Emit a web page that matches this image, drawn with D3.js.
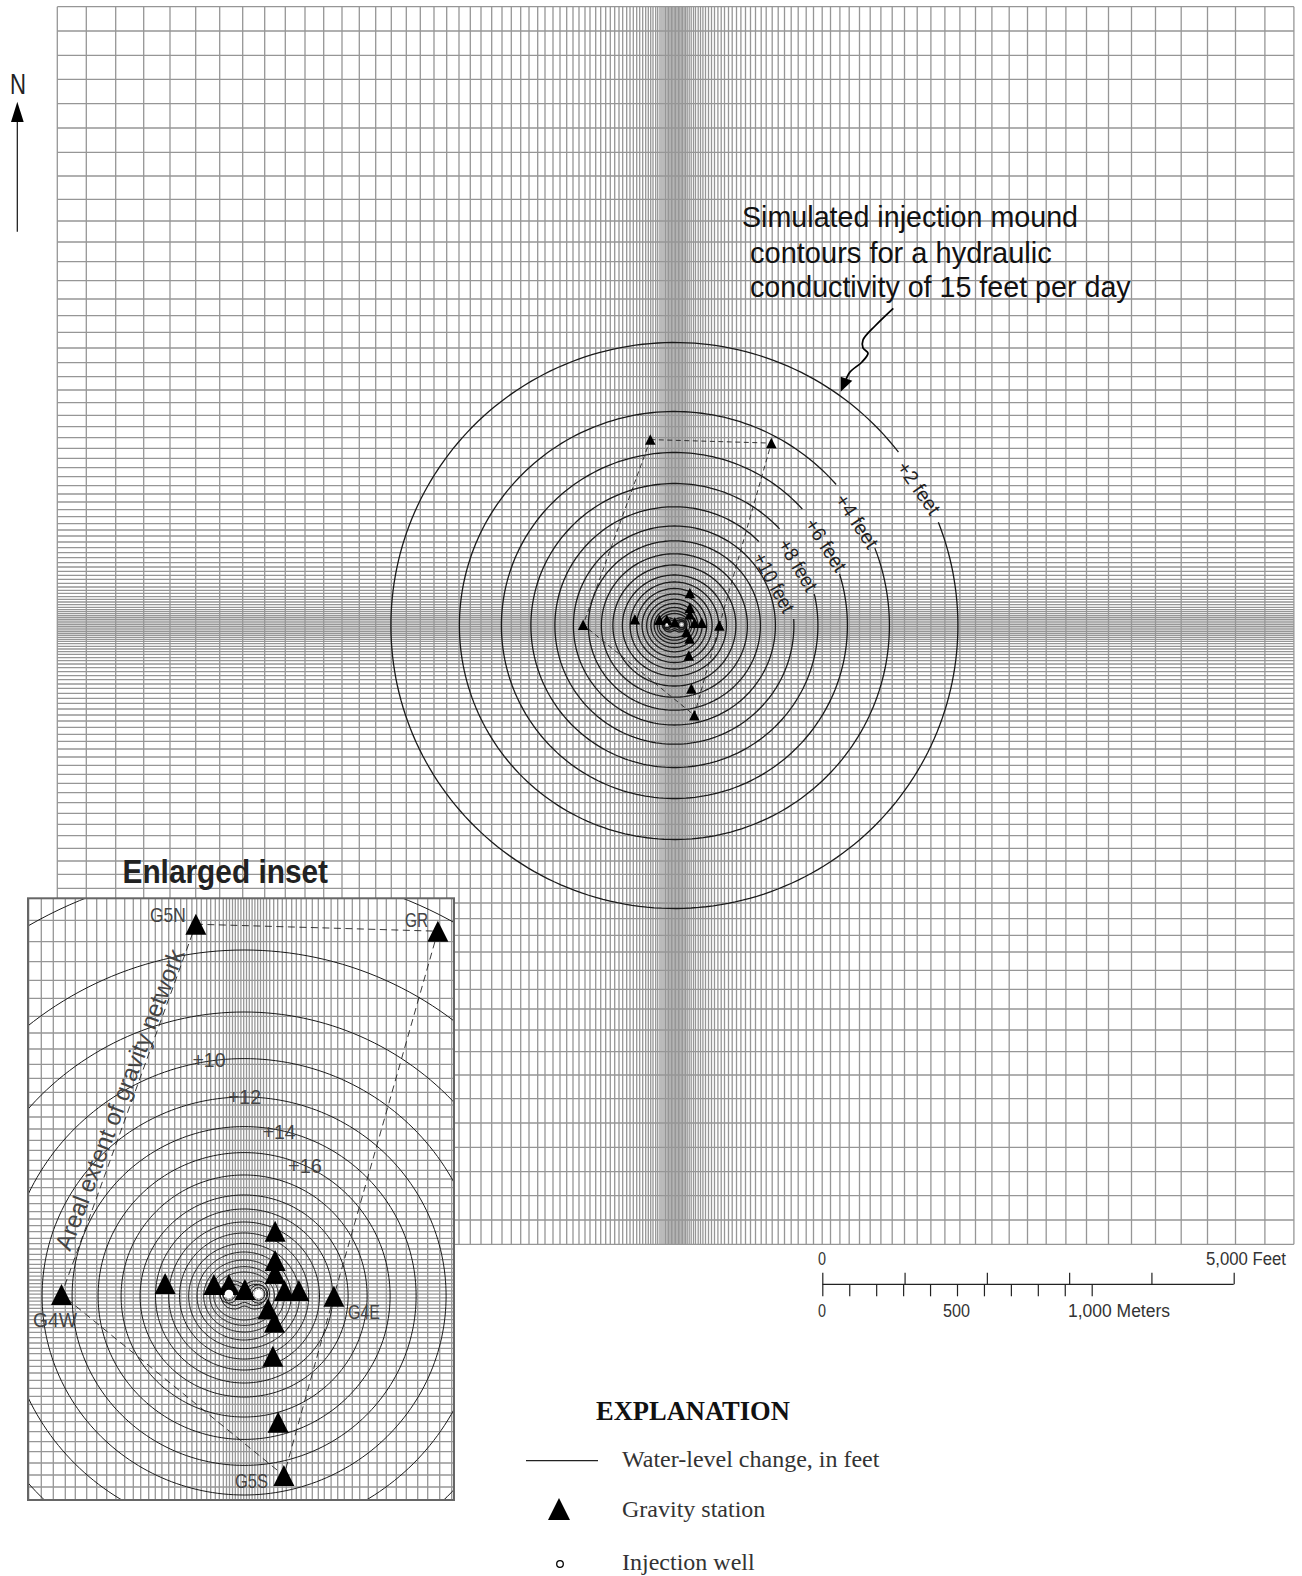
<!DOCTYPE html>
<html>
<head>
<meta charset="utf-8">
<script src="https://cdnjs.cloudflare.com/ajax/libs/d3/7.8.5/d3.min.js"></script>
<style>
  html, body { margin: 0; padding: 0; background: #fff; }
  svg { display: block; }
  text { font-family: "Liberation Sans", sans-serif; }
  .serif { font-family: "Liberation Serif", serif; }
  .axis path, .axis line { stroke: #222; stroke-width: 1.2; fill: none; }
</style>
</head>
<body>
<div id="chart"></div>
<script>
// model grid lines, distance from the grid centre (mirrored both ways)
const gridX = [618.3, 589.3, 559.9, 531.9, 505.6, 479.9, 455.9, 432.9, 410.9, 390.3, 370.6, 351.9, 333.6,
  316.3, 299.9, 284.3, 269.3, 255.3, 241.6, 228.9, 216.6, 205.3, 194.6, 183.9, 173.6, 164.3, 154.9,
  146.6, 137.9, 130.6, 122.6, 115.6, 108.9, 102.6, 96.6, 90.6, 85.6, 79.9, 74.9, 69.9, 65.3, 60.9,
  56.6, 52.9, 48.9, 45.6, 42.3, 38.9, 35.9, 32.9, 29.9, 27.3, 24.9, 22.6, 19.9, 17.9, 15.6, 13.6,
  11.6, 10, 8.5, 7, 5.6, 4.2, 2.8, 1.4, 0];
const gridY = [618.8, 594.5, 570.2, 546.2, 521.8, 497.5, 473.2, 449.5, 426.2, 404.5, 383.5, 363.8, 344.8,
  326.5, 309.8, 293.2, 277.5, 262.8, 248.8, 235.5, 222.8, 210.2, 198.8, 187.8, 177.2, 167.2, 157.8,
  148.8, 139.8, 131.5, 123.5, 115.8, 108.8, 101.8, 95.5, 89.5, 83.5, 77.8, 72.8, 67.8, 62.8, 58.5,
  54.2, 50.2, 46.2, 42.2, 38.5, 35.2, 32.2, 28.8, 26.2, 23.5, 20.8, 18.2, 15.8, 13.8, 11.8, 9.9,
  8, 6.2, 4.4, 2.6, 0.9];

// contours: half width, half height, gap in the main map (degrees clockwise from north)
const contourRx = [283.5, 215, 173, 143.5, 119.5, 101, 86, 73, 61.5, 52, 44.3, 37.7, 32.3, 27.7, 23.5, 20.2, 17.2, 15.2];
const contourRy = [283, 214, 173, 142, 118.7, 99.5, 84.7, 71.7, 60.5, 50.5, 43.5, 37, 31.5, 26.3, 22, 18, 14.7, 12];
const contourGaps = [[52.2, 68.6], [48.8, 68.8], [47.7, 72.7], [47.1, 77.2], [45, 86.9]];
const contourCentre = [-1.2, 0];

// peanut shaped innermost contours and the small rings round each well
const peanutA = [[-13.2, -1], [-10.5, -6.5], [-5.5, -7.5], [-1, -6], [3.5, -7.5], [9, -6.5], [11.5, -1], [9, 5], [3.5, 6.5], [-1, 5], [-5.5, 6.5], [-10.5, 5]];
const peanutB = [[-11.8, -1], [-9.5, -5], [-5.5, -5.7], [-1, -4.2], [3.5, -5.7], [8, -5], [10.2, -1], [8, 3.5], [3.5, 4.7], [-1, 3.2], [-5.5, 4.7], [-9.5, 3.5]];
const lobeRadii = [4.6, 3.2];

const wellU = [-8.8, 6];
const wellV = [-1, -1];

const stationNames = ["G4W", "A", "B", "C", "D", "E", "F", "G", "H", "I", "G4E", "K", "L", "M", "N", "G5S", "G5N", "GR"];
const stationU = [-92.5, -40.7, -16.3, -8.8, -0.8, 14.3, 14.3, 14.3, 19, 26.2, 43.7, 10.8, 14, 13.2, 15.8, 18.7, -25.3, 95.7];
const stationV = [-0.75, -6.2, -5.7, -5.7, -3.2, -32.4, -17.8, -11.3, -2.8, -2.8, 0.1, 6.4, 13.1, 30.1, 63.1, 89.8, -185.9, -182.4];
const networkOrder = ["G5N", "GR", "G4E", "G5S", "G4W", "G5N"];

const mainLabels = ["+2 feet", "+4 feet", "+6 feet", "+8 feet", "+10 feet"];
const calloutLines = ["Simulated injection mound", "contours for a hydraulic", "conductivity of 15 feet per day"];
const insetNames = ["G5N", "GR", "G4W", "G4E", "G5S", "+10", "+12", "+14", "+16"];
const scaleLabels = ["0", "5,000 Feet", "0", "500", "1,000 Meters"];
const explainLabels = ["Water-level change, in feet", "Gravity station", "Injection well"];

const feetTicks = [0, 1000, 2000, 3000, 4000, 5000];
const meterTicks = [0, 100, 200, 300, 400, 500, 600, 700, 800, 900, 1000];

const width = 1302, height = 1576;
const svg = d3.select("#chart").append("svg").attr("width", width).attr("height", height);
svg.append("rect").attr("width", width).attr("height", height).attr("fill", "#fff");

const mainX = d3.scaleLinear().domain([-618.3, 618.3]).range([57.3, 1293.9]);
const mainY = d3.scaleLinear().domain([-618.8, 618.8]).range([6.7, 1244.3]);
const insetX = d3.scaleLinear().domain([-100, 100]).range([46.5, 446.5]);
const insetY = d3.scaleLinear().domain([-100, 100]).range([1096, 1496]);

const both = a => a.flatMap(d => d === 0 ? [0] : [-d, d]);

// narrow look: no condensed face is installed, so squeeze glyphs to the measured width
function narrow(sel, len) {
  return sel.attr("textLength", len).attr("lengthAdjust", "spacingAndGlyphs");
}

function ringPath(x, y, rx, ry, gap) {
  const from = gap ? gap[1] : 0;
  const to = gap ? gap[0] + 360 : 360;
  const angles = d3.range(from, to, 1.5).concat([to]);
  return d3.line()
    .x(a => x(contourCentre[0] + rx * Math.sin(a * Math.PI / 180)))
    .y(a => y(contourCentre[1] - ry * Math.cos(a * Math.PI / 180)))(angles);
}

function drawMap(g, x, y, opt) {
  const xLines = both(gridX), yLines = both(gridY);
  g.selectAll("line.v").data(xLines).join("line").attr("class", "v")
    .attr("x1", d => x(d)).attr("x2", d => x(d))
    .attr("y1", y(-618.8)).attr("y2", y(618.8))
    .attr("stroke", "#969696").attr("stroke-width", 1.3);
  g.selectAll("line.h").data(yLines).join("line").attr("class", "h")
    .attr("x1", x(-618.3)).attr("x2", x(618.3))
    .attr("y1", d => y(d)).attr("y2", d => y(d))
    .attr("stroke", "#969696").attr("stroke-width", 1.3);

  // contours
  g.selectAll("path.ring").data(contourRx).join("path").attr("class", "ring")
    .attr("d", (rx, i) => ringPath(x, y, rx, contourRy[i], opt.gaps ? contourGaps[i] : null))
    .attr("fill", "none").attr("stroke", "#1a1a1a").attr("stroke-width", opt.ringWidth);

  const peanutLine = d3.line().x(d => x(d[0])).y(d => y(d[1])).curve(d3.curveCardinalClosed);
  g.selectAll("path.peanut").data([peanutA, peanutB]).join("path").attr("class", "peanut")
    .attr("d", peanutLine)
    .attr("fill", "none").attr("stroke", "#1a1a1a").attr("stroke-width", opt.ringWidth);
  const k = x(1) - x(0);
  wellU.forEach((u, i) => {
    g.selectAll("circle.lobe" + i).data(lobeRadii).join("circle").attr("class", "lobe" + i)
      .attr("cx", x(u)).attr("cy", y(wellV[i])).attr("r", r => r * k)
      .attr("fill", "none").attr("stroke", "#1a1a1a").attr("stroke-width", opt.ringWidth);
  });

  // gravity network
  const at = n => stationNames.indexOf(n);
  g.append("path")
    .attr("d", d3.line().x(n => x(stationU[at(n)])).y(n => y(stationV[at(n)]))(networkOrder))
    .attr("fill", "none").attr("stroke", "#222").attr("stroke-width", opt.dashWidth)
    .attr("stroke-dasharray", opt.dash);

  // stations
  const w = opt.triangle;
  g.selectAll("path.station").data(stationU).join("path").attr("class", "station")
    .attr("d", (u, i) => {
      const cx = x(u), cy = y(stationV[i]);
      return d3.line()([[cx, cy - w / 2], [cx + w / 2, cy + w / 2], [cx - w / 2, cy + w / 2]]) + "Z";
    })
    .attr("fill", "#000");

  g.selectAll("circle.well").data(wellU).join("circle").attr("class", "well")
    .attr("cx", d => x(d)).attr("cy", (d, i) => y(wellV[i])).attr("r", opt.wellR)
    .attr("fill", "#fff");
}

// main map
const mainG = svg.append("g");
drawMap(mainG, mainX, mainY, { gaps: true, ringWidth: 1.3, dashWidth: 0.9, dash: "5,3.5", triangle: 10.5, wellR: 1.3 });

const mainLabelPos = [[919, 488, 55, 60], [857, 521, 56.5, 61], [826, 545, 57, 59], [798, 565, 59, 57], [774, 582.5, 61.5, 65]];
mainLabels.forEach((t, i) => {
  const p = mainLabelPos[i];
  mainG.append("text")
    .attr("transform", `translate(${p[0]},${p[1]}) rotate(${p[2]})`)
    .attr("text-anchor", "middle").attr("dy", "0.35em")
    .attr("font-size", 20).attr("fill", "#222")
    .text(t).call(narrow, p[3]);
});

// callout
const calloutPos = [[742, 227.3, 336], [750, 262.7, 301.7], [750, 297.3, 380.7]];
calloutLines.forEach((t, i) => {
  svg.append("text").attr("x", calloutPos[i][0]).attr("y", calloutPos[i][1])
    .attr("font-size", 30).attr("fill", "#111")
    .text(t).call(narrow, calloutPos[i][2]);
});

const squiggle = [[893.3, 308.3], [875, 326], [863, 340], [863, 348], [868, 353], [862, 362], [850, 372], [845, 382]];
svg.append("path")
  .attr("d", d3.line().curve(d3.curveCatmullRom)(squiggle))
  .attr("fill", "none").attr("stroke", "#000").attr("stroke-width", 1.8);
svg.append("path")
  .attr("d", d3.line()([[840.7, 391.7], [840.7, 376.7], [852.3, 380.7]]) + "Z")
  .attr("fill", "#000");

// north arrow
svg.append("text").attr("x", 10).attr("y", 94)
  .attr("font-size", 29).attr("fill", "#222").text("N").call(narrow, 16);
svg.append("line").attr("x1", 17.3).attr("x2", 17.3).attr("y1", 231.7).attr("y2", 115)
  .attr("stroke", "#111").attr("stroke-width", 1.2);
svg.append("path").attr("d", d3.line()([[17.3, 101.7], [23.7, 122], [11, 122]]) + "Z").attr("fill", "#000");

// inset
svg.append("text").attr("x", 122.5).attr("y", 883)
  .attr("font-size", 33).attr("font-weight", "bold").attr("fill", "#222")
  .text("Enlarged inset").call(narrow, 205.5);

const insetFrame = { x: 28, y: 898.3, w: 426, h: 601.7 };
svg.append("clipPath").attr("id", "inset-clip").append("rect")
  .attr("x", insetFrame.x).attr("y", insetFrame.y).attr("width", insetFrame.w).attr("height", insetFrame.h);
const insetG = svg.append("g").attr("clip-path", "url(#inset-clip)");
insetG.append("rect").attr("x", insetFrame.x).attr("y", insetFrame.y)
  .attr("width", insetFrame.w).attr("height", insetFrame.h).attr("fill", "#fff");
drawMap(insetG, insetX, insetY, { gaps: false, ringWidth: 1, dashWidth: 0.9, dash: "7,4.5", triangle: 21, wellR: 4.3 });
svg.append("rect").attr("x", insetFrame.x).attr("y", insetFrame.y)
  .attr("width", insetFrame.w).attr("height", insetFrame.h)
  .attr("fill", "none").attr("stroke", "#666").attr("stroke-width", 2);

const insetNamePos = [[150, 921.7, 35.7], [405, 927, 23], [33, 1326.7, 44], [348, 1319, 32], [235, 1488, 33],
  [192.5, 1066.7, 33], [228, 1104, 33], [262.7, 1138.7, 33], [288, 1173, 34]];
insetNames.forEach((t, i) => {
  svg.append("text").attr("x", insetNamePos[i][0]).attr("y", insetNamePos[i][1])
    .attr("font-size", 21).attr("fill", "#444")
    .text(t).call(narrow, insetNamePos[i][2]);
});
svg.append("text").attr("transform", "translate(70,1252) rotate(-69)")
  .attr("font-size", 24).attr("fill", "#444")
  .text("Areal extent of gravity network").call(narrow, 320);

// scale bar
const feetScale = d3.scaleLinear().domain([0, 5000]).range([822.3, 1233.7]);
const meterScale = d3.scaleLinear().domain([0, 1000]).range([822.3, 1091.7]);
svg.append("g").attr("class", "axis").attr("transform", "translate(0,1284.3)")
  .call(d3.axisTop(feetScale).tickValues(feetTicks).tickSize(11.5).tickFormat(""))
  .call(g => g.select(".domain").attr("d", `M${feetScale(0)},0H${feetScale(5000)}`));
svg.append("g").attr("class", "axis").attr("transform", "translate(0,1284.3)")
  .call(d3.axisBottom(meterScale).tickValues(meterTicks).tickSize(12).tickFormat(""))
  .call(g => g.select(".domain").remove());
const scalePos = [[818, 1265, 8], [1206, 1265, 80], [818, 1316.7, 8], [943, 1316.7, 27], [1068, 1316.7, 102]];
scaleLabels.forEach((t, i) => {
  svg.append("text").attr("x", scalePos[i][0]).attr("y", scalePos[i][1])
    .attr("font-size", 18).attr("fill", "#333")
    .text(t).call(narrow, scalePos[i][2]);
});

// explanation
svg.append("text").attr("class", "serif").attr("x", 596).attr("y", 1420)
  .attr("font-size", 26.5).attr("font-weight", "bold").attr("fill", "#111").text("EXPLANATION");
const explainY = [1467, 1517, 1570];
explainLabels.forEach((t, i) => {
  svg.append("text").attr("class", "serif").attr("x", 622).attr("y", explainY[i])
    .attr("font-size", 24).attr("fill", "#333").text(t);
});
svg.append("line").attr("x1", 526).attr("x2", 598).attr("y1", 1460.7).attr("y2", 1460.7)
  .attr("stroke", "#222").attr("stroke-width", 1.2);
svg.append("path").attr("d", d3.line()([[559, 1498], [570, 1520], [548, 1520]]) + "Z").attr("fill", "#000");
svg.append("circle").attr("cx", 560).attr("cy", 1564).attr("r", 3.3)
  .attr("fill", "#fff").attr("stroke", "#000").attr("stroke-width", 1.3);
</script>
</body>
</html>
